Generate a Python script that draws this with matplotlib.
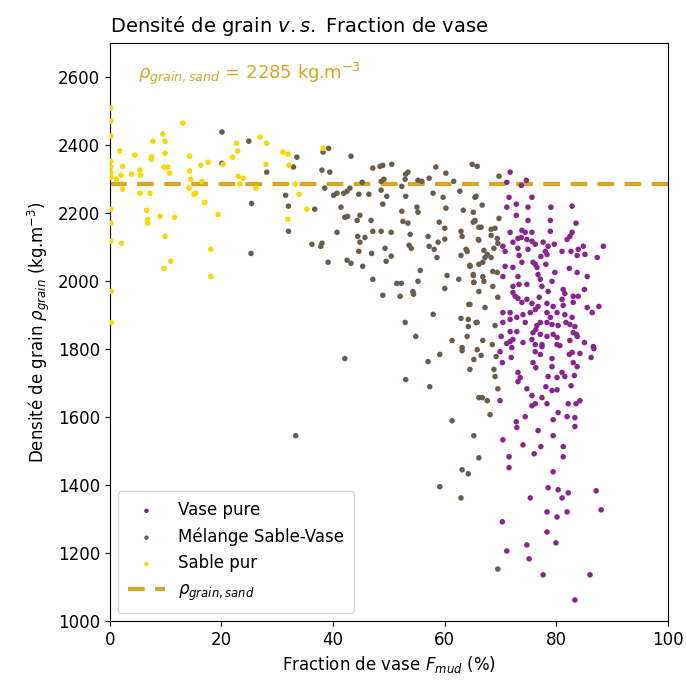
"""
Densité de grain vs fraction de vase: nuage de points par classe
(vase pure, mélange sable-vase, sable pur) et densité du sable.
"""

import matplotlib
matplotlib.use("Agg")
import matplotlib.pyplot as plt

RHO_SAND = 2285

# Sable pur
sand_x = [0.2, 0.2, 0.2, 0.2, 0.2, 0.2, 0.2, 0.2, 0.2, 0.2, 0.3, 0.3,
          1.8, 1.2, 2.3, 2.0, 2.3, 2.1, 3.9, 4.5, 5.4, 5.5, 5.4, 7.2, 6.6, 6.8, 6.8,
          7.7, 7.4, 7.5, 9.5, 9.9, 9.9, 9.7, 10.4, 10.7, 9.0, 9.9, 10.9, 9.7, 13.1,
          11.6, 14.3, 14.3, 14.5, 14.2, 15.1, 15.4, 16.3, 16.5, 17.0, 17.6, 19.4,
          18.1, 18.1, 20.3, 22.0, 22.7, 22.9, 23.0, 23.3, 23.9, 26.2, 26.9, 28.1,
          28.0, 31.0, 31.9, 32.1, 31.9, 33.2, 33.9, 35.3, 38.2]
sand_y = [2508, 2470, 2426, 2352, 2335, 2318, 2305, 2211, 2170, 2117, 1969, 1878,
          2382, 2299, 2337, 2311, 2270, 2111, 2314, 2370, 2326, 2311, 2258, 2258, 2208, 2181, 2170,
          2411, 2358, 2365, 2432, 2411, 2376, 2335, 2335, 2317, 2190, 2131, 2058, 2037, 2464,
          2187, 2367, 2323, 2299, 2273, 2255, 2258, 2340, 2293, 2231, 2349, 2196,
          2093, 2013, 2343, 2364, 2405, 2382, 2308, 2285, 2302, 2273, 2423, 2405,
          2343, 2379, 2373, 2340, 2181, 2285, 2255, 2211, 2390]

# Mélange sable-vase
mix_x = [20.1, 20.1, 24.9, 28.1, 25.4, 25.3, 31.5, 32.0, 32.0, 32.9, 33.5, 33.3,
         38.2, 39.2, 38.0, 39.4, 38.5, 36.7, 36.2, 37.8, 38.0, 39.1, 40.7, 40.1, 40.7,
         41.4, 41.9, 42.5, 43.0, 43.2, 42.1, 42.6, 44.3, 44.8, 44.6, 45.2, 44.4, 45.7,
         44.8, 44.6, 42.5, 43.2, 45.3, 46.4, 46.9, 46.8, 47.1, 47.1, 47.1, 48.4, 48.9,
         50.5, 48.6, 49.1, 48.6, 49.6, 48.9, 48.6, 49.3, 49.5, 50.4, 50.4, 51.4, 52.2,
         48.9, 52.0, 53.0, 53.4, 52.9, 52.3, 53.0, 52.3, 52.5, 53.4, 53.8, 53.6, 54.0,
         54.3, 54.4, 52.9, 54.8, 55.2, 55.9, 55.0, 55.2, 55.6, 55.2, 57.2, 58.4, 57.0,
         57.2, 57.9, 58.1, 58.6, 58.8, 59.0, 57.9, 60.2, 59.7, 60.2, 60.0, 60.0, 60.4,
         60.0, 61.6, 62.7, 63.3, 62.9, 63.1, 62.9, 64.0, 64.5, 62.5, 65.1, 65.2, 64.5,
         62.9, 64.2, 65.8, 64.2, 64.0, 61.3, 63.1, 64.9, 65.8, 65.1, 65.4, 66.1, 66.1,
         66.1, 66.1, 65.6,
         42.1, 53.0, 57.0, 57.3, 59.1, 63.1, 65.2, 64.5, 65.8, 66.1, 61.3, 65.2, 66.1,
         63.1, 64.2, 59.1, 62.9,
         66.8, 68.5, 66.5, 69.2, 68.8, 69.0, 69.5, 66.7, 67.6, 68.1, 69.5,
         69.7, 65.4, 66.7, 65.1, 65.4, 69.7, 66.5, 68.3, 69.0, 68.3, 66.0, 69.4, 69.5,
         68.8, 63.8, 67.0, 67.6, 67.2, 68.3, 66.8, 64.5, 68.6, 69.4, 65.1, 66.8, 67.0,
         65.2, 68.6, 69.5, 64.3, 67.2, 65.6, 69.0]
mix_y = [2438, 2346, 2411, 2320, 2228, 2081, 2252, 2220, 2146, 2335, 2364, 1545,
         2379, 2390, 2326, 2320, 2273, 2211, 2108, 2102, 2111, 2055, 2143, 2252, 2258,
         2217, 2258, 2264, 2273, 2367, 2187, 2190, 2178, 2193, 2255, 2290, 2131, 2128,
         2114, 2087, 2061, 2052, 2043, 2255, 2081, 2178, 2146, 2005, 2332, 2337, 2340,
         2343, 2293, 2299, 2267, 2249, 2226, 2146, 2096, 2058, 2073, 2143, 1993, 1993,
         1958, 1955, 2314, 2320, 2299, 2278, 2249, 2205, 2175, 2170, 2137, 2105, 2096,
         1969, 1961, 1878, 1837, 2296, 2293, 2217, 2202, 2031, 1999, 2302, 2335, 2131,
         2102, 2258, 2093, 2069, 2114, 2173, 1902, 2317, 2246, 2214, 2155, 2123, 2016,
         1978, 2293, 2264, 2208, 2146, 2131, 2075, 2087, 2046, 2005, 2019, 1996, 1931,
         1890, 1887, 1878, 1866, 1837, 1825, 1804, 2343, 2337, 2173, 2178, 2158, 2120,
         2049, 1969, 2249,
         1772, 1710, 1763, 1689, 1784, 1795, 1769, 1740, 1798, 1657, 1589, 1545, 1480,
         1445, 1433, 1395, 1362,
         1825, 1813, 1781, 1778, 1740, 1719, 1683, 1657, 1648, 1607, 1153,
         2308, 2246, 2223, 2202, 2176, 2184, 2158, 2152, 2155, 2134, 2122, 2125, 2111,
         2096, 2093, 2090, 2078, 2069, 2069, 2055, 2043, 2028, 2025, 2016, 2013, 1999,
         1996, 1984, 1952, 1931, 1922, 1878, 1869]

# Vase pure
mud_x = [71.7, 71.1, 74.6, 73.7, 71.5, 75.6, 72.8, 71.1, 74.9, 79.0, 82.8, 72.8,
         74.9, 78.9, 83.5, 71.7, 73.8, 74.4, 75.6, 73.7, 78.9, 82.8, 82.4, 81.9, 72.2,
         73.1, 74.7, 75.6, 76.2, 77.6, 78.5, 79.6, 81.0, 83.9, 84.8, 88.4, 70.4, 70.8,
         73.1, 74.9, 78.0, 77.2, 78.3, 73.3, 82.6, 83.7, 85.1, 87.3, 73.8, 75.8, 76.2,
         76.5, 78.1, 70.8, 72.2, 70.4, 73.1, 76.7, 77.1, 82.3, 83.7, 85.5, 79.7, 72.2,
         73.3, 74.7, 77.4, 79.2, 78.5, 81.2, 81.5, 83.0, 83.9, 85.0, 72.2, 72.6, 73.1,
         73.8, 74.7, 75.6, 76.9, 76.7, 76.2, 78.3, 79.4, 81.0, 81.2, 83.0, 85.5, 86.4,
         87.6, 70.4, 71.7, 71.7, 70.4, 72.9, 74.0, 75.3, 74.4, 78.3, 78.9, 80.1, 81.5,
         82.8, 77.1, 76.5, 78.3, 79.2, 80.3, 81.7, 82.4, 83.3, 71.7, 72.9, 75.8, 77.1,
         78.3, 79.4, 80.1, 83.0, 83.7, 70.1, 71.7, 74.0, 75.6, 77.4, 80.1, 85.0, 86.6,
         72.2, 71.1, 72.0, 69.9, 71.9, 70.3, 76.3, 76.2, 77.4, 76.2, 77.1, 80.6, 82.4,
         83.6, 86.7, 86.2, 84.2, 82.8, 82.3, 79.2, 79.2, 75.8, 76.3, 83.0, 83.7, 83.2,
         81.0, 81.5, 80.1, 78.5, 73.1, 73.5, 73.1, 82.6, 78.1, 79.2, 80.1, 74.7, 77.4,
         75.6, 76.2, 75.6, 78.3, 82.1, 83.5, 84.2, 69.9, 80.3, 79.4, 81.9, 83.3, 83.3,
         74.4, 72.8, 72.9, 76.7, 79.4, 70.4, 74.0, 77.2, 81.2, 71.5, 76.0, 81.2, 71.5,
         79.4, 78.5, 80.3, 81.0, 82.1, 87.1, 75.3, 78.3, 80.1, 81.9, 88.0, 70.3, 78.3,
         79.9, 74.7, 71.1, 75.1, 77.6, 86.0, 83.3]
mud_y = [2320, 2290, 2296, 2281, 2246, 2246, 2226, 2217, 2217, 2217, 2220, 2193,
         2178, 2178, 2170, 2143, 2149, 2143, 2143, 2128, 2146, 2143, 2131, 2122, 2114,
         2125, 2122, 2117, 2108, 2114, 2102, 2108, 2087, 2093, 2102, 2102, 2102, 2087,
         2096, 2093, 2087, 2072, 2078, 2075, 2087, 2075, 2078, 2069, 2055, 2055, 2049,
         2040, 2049, 2043, 2040, 2013, 2013, 2019, 2005, 2037, 2025, 2013, 2025, 1984,
         1990, 1990, 1984, 1999, 1969, 1975, 1963, 1955, 1955, 1975, 1966, 1955, 1949,
         1937, 1946, 1934, 1952, 1925, 1916, 1934, 1925, 1946, 1928, 1937, 1922, 1907,
         1925, 1907, 1907, 1887, 1878, 1893, 1901, 1907, 1878, 1907, 1893, 1907, 1901,
         1893, 1878, 1869, 1878, 1872, 1869, 1878, 1872, 1866, 1851, 1851, 1848, 1843,
         1837, 1843, 1834, 1848, 1837, 1837, 1822, 1819, 1828, 1813, 1813, 1819, 1807,
         1828, 1816, 1804, 1792, 1775, 1760, 1857, 1813, 1807, 1792, 1784, 1810, 1825,
         1843, 1801, 1775, 1787, 1790, 1784, 1772, 1748, 1760, 1745, 1760, 1748, 1722,
         1731, 1719, 1716, 1719, 1731, 1716, 1704, 1692, 1689, 1678, 1680, 1683, 1657,
         1663, 1639, 1633, 1639, 1639, 1639, 1648, 1648, 1613, 1592, 1601, 1598, 1572,
         1601, 1586, 1569, 1560, 1545, 1533, 1518, 1513, 1513, 1483, 1492, 1483, 1451,
         1439, 1392, 1386, 1362, 1377, 1383, 1362, 1321, 1306, 1321, 1327, 1292, 1262,
         1230, 1224, 1206, 1183, 1136, 1136, 1062]


def main():
    fig = plt.figure(figsize=(6.86, 6.81), dpi=100)
    ax = fig.add_axes([0.160, 0.088, 0.814, 0.849])

    kw = dict(s=16, edgecolors="none", zorder=3)
    ax.scatter(mud_x, mud_y, color="#8B2391", label="Vase pure", **kw)
    ax.scatter(mix_x, mix_y, color="#6B5D4D", label="Mélange Sable-Vase", **kw)
    ax.scatter(sand_x, sand_y, color="#FFD700", label="Sable pur", **kw)
    ax.axhline(RHO_SAND, color="#DAA520", ls=(0, (4, 2.5)), lw=3, zorder=2,
               label=r"$\rho_{grain,sand}$")

    ax.text(5, 2610, r"$\rho_{grain,sand}$ = %d kg.m$^{-3}$" % RHO_SAND,
            color="#DAA520", fontsize=13, va="center")

    ax.set_xlim(0, 100)
    ax.set_ylim(1000, 2700)
    ax.set_yticks(range(1000, 2700, 200))
    ax.tick_params(labelsize=12)
    ax.set_xlabel(r"Fraction de vase $F_{mud}$ (%)", fontsize=12)
    ax.set_ylabel(r"Densité de grain $\rho_{grain}$ (kg.m$^{-3}$)", fontsize=12)
    ax.set_title(r"Densité de grain $v.s.$ Fraction de vase", loc="left",
                 fontsize=14, pad=8)
    ax.legend(loc="lower left", fontsize=12, markerscale=0.8,
              handlelength=2.2, borderpad=0.6)

    fig.savefig("out.png", dpi=100)


if __name__ == "__main__":
    main()
